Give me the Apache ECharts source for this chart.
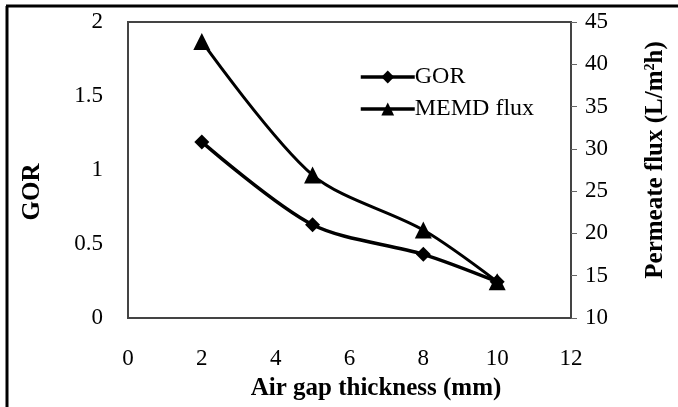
<!DOCTYPE html>
<html>
<head>
<meta charset="utf-8">
<script src="https://cdn.jsdelivr.net/npm/echarts@6/dist/echarts.min.js"></script>
<style>
html,body{margin:0;padding:0;background:#fff;}
#chart{width:678px;height:407px;}
</style>
</head>
<body>
<div id="chart"></div>
<script>
const airGap = [2, 5, 8, 10];
const gor = [1.19, 0.63, 0.43, 0.245];
const memdFlux = [42.7, 26.9, 20.4, 14.3];
const xTicks = { min: 0, max: 12, interval: 2 };
const yLeftTicks = { min: 0, max: 2, interval: 0.5 };
const yRightTicks = { min: 10, max: 45, interval: 5 };

const FONT = 'Liberation Serif';
const chart = echarts.init(document.getElementById('chart'), null, { renderer: 'canvas' });

const gorData = airGap.map((x, i) => [x, gor[i]]);
const fluxData = airGap.map((x, i) => [x, memdFlux[i]]);

chart.setOption({
  backgroundColor: '#fff',
  animation: false,
  grid: {
    left: 128, top: 22, right: 107, bottom: 89,
    show: true, borderColor: '#444', borderWidth: 2, backgroundColor: '#fff'
  },
  legend: {
    orient: 'vertical',
    left: 354, top: 60,
    itemWidth: 54, itemHeight: 16, itemGap: 8,
    textStyle: { fontFamily: FONT, fontSize: 24, color: '#000', padding: [0, 0, 0, -5] },
    data: [
      { name: 'GOR', lineStyle: { width: 3.5, color: '#000' } },
      { name: 'MEMD flux', lineStyle: { width: 3.5, color: '#000' } }
    ]
  },
  xAxis: {
    type: 'value',
    min: xTicks.min, max: xTicks.max, interval: xTicks.interval,
    axisLine: { show: false },
    axisTick: { show: false },
    splitLine: { show: false },
    axisLabel: { fontFamily: FONT, fontSize: 23, color: '#000', margin: 29 }
  },
  yAxis: [
    {
      type: 'value',
      min: yLeftTicks.min, max: yLeftTicks.max, interval: yLeftTicks.interval,
      axisLine: { show: false },
      axisTick: { show: false },
      splitLine: { show: false },
      axisLabel: { fontFamily: FONT, fontSize: 23, color: '#000', margin: 25 }
    },
    {
      type: 'value',
      position: 'right',
      min: yRightTicks.min, max: yRightTicks.max, interval: yRightTicks.interval,
      axisLine: { show: true, lineStyle: { color: '#444', width: 2 } },
      axisTick: { show: true, inside: false, length: 6, lineStyle: { color: '#666', width: 1 } },
      splitLine: { show: false },
      axisLabel: { fontFamily: FONT, fontSize: 23, color: '#000', margin: 14 }
    }
  ],
  series: [
    {
      name: 'GOR', type: 'line', yAxisIndex: 0,
      data: gorData, smooth: 0.3,
      symbol: 'diamond', symbolSize: 15,
      lineStyle: { color: '#000', width: 3.5 },
      itemStyle: { color: '#000' }
    },
    {
      name: 'MEMD flux', type: 'line', yAxisIndex: 1,
      data: fluxData, smooth: 0.3,
      symbol: 'triangle', symbolSize: 17,
      lineStyle: { color: '#000', width: 3 },
      itemStyle: { color: '#000' }
    }
  ],
  graphic: [
    { type: 'line', shape: { x1: 7, y1: 6, x2: 7, y2: 407 }, style: { stroke: '#000', lineWidth: 3 } },
    { type: 'line', shape: { x1: 6, y1: 6, x2: 678, y2: 6 }, style: { stroke: '#000', lineWidth: 3 } },
    {
      type: 'text', x: 33, y: 192, rotation: Math.PI / 2,
      style: { text: 'GOR', font: 'bold 25px "Liberation Serif"', fill: '#000', align: 'center', verticalAlign: 'middle' }
    },
    {
      type: 'text', x: 376, y: 389,
      style: { text: 'Air gap thickness (mm)', font: 'bold 25px "Liberation Serif"', fill: '#000', align: 'center', verticalAlign: 'middle' }
    },
    {
      type: 'text', x: 656, y: 160, rotation: Math.PI / 2,
      style: {
        text: 'Permeate flux (L/m{sup|2}h)',
        font: 'bold 25px "Liberation Serif"', fill: '#000', align: 'center', verticalAlign: 'middle',
        rich: { sup: { font: 'bold 14px "Liberation Serif"', fill: '#000', verticalAlign: 'top', padding: [0, 0, 9, 0] } }
      }
    }
  ]
});
</script>
</body>
</html>
